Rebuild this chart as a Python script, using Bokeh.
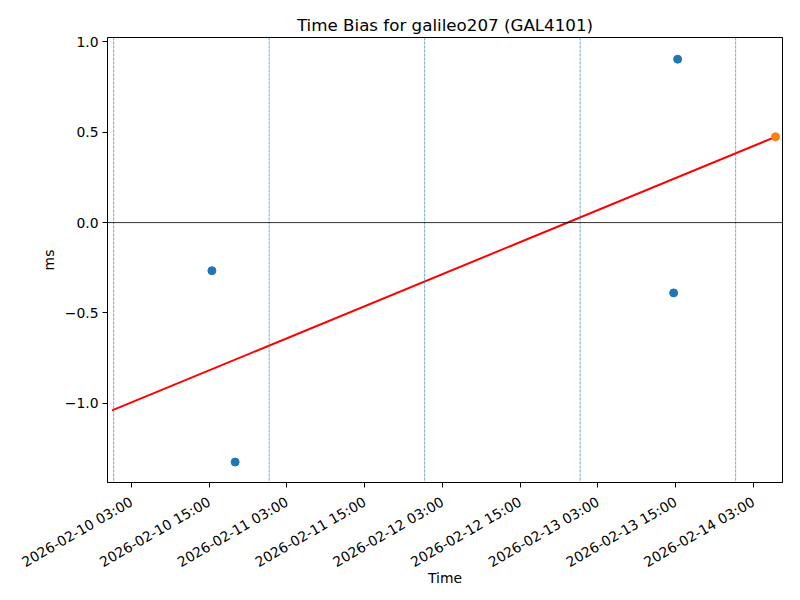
import math
import pandas as pd
from bokeh.plotting import figure
from bokeh.models import (Range1d, FixedTicker, DatetimeTickFormatter, CustomJSTickFormatter,
                          Span, ColumnDataSource)
from bokeh.embed import file_html
from bokeh.resources import INLINE

# ---- data ----
blue_times = ["2026-02-10 15:25", "2026-02-10 19:00", "2026-02-13 14:41", "2026-02-13 15:18"]
blue_values = [-0.266, -1.325, -0.389, 0.904]
orange_times = ["2026-02-14 06:24"]
orange_values = [0.4745]
trend_times = ["2026-02-10 00:00", "2026-02-14 06:24"]
trend_values = [-1.039, 0.4745]
day_marks = ["2026-02-10 00:15", "2026-02-11 00:15", "2026-02-12 00:15",
             "2026-02-13 00:15", "2026-02-14 00:15"]
x_ticks = ["2026-02-10 03:00", "2026-02-10 15:00", "2026-02-11 03:00", "2026-02-11 15:00",
           "2026-02-12 03:00", "2026-02-12 15:00", "2026-02-13 03:00", "2026-02-13 15:00",
           "2026-02-14 03:00"]
y_ticks = [-1.0, -0.5, 0.0, 0.5, 1.0]
x_limits = ["2026-02-09 23:18", "2026-02-14 07:29"]
y_limits = [-1.438, 1.024]


def ms(s):
    return pd.Timestamp(s).value / 1e6


FONT = "DejaVu Sans"

p = figure(width=800, height=600, output_backend="svg", toolbar_location=None,
           x_axis_type="datetime",
           x_range=Range1d(ms(x_limits[0]), ms(x_limits[1])),
           y_range=Range1d(y_limits[0], y_limits[1]),
           min_border_left=107, min_border_right=18, min_border_top=37, min_border_bottom=118,
           title="Time Bias for galileo207 (GAL4101)")

p.title.align = "center"
p.title.text_font = FONT
p.title.text_font_size = "16.7px"
p.title.text_font_style = "normal"
p.title.text_color = "black"
p.title.standoff = 6

p.outline_line_color = "black"
p.outline_line_width = 1
p.outline_line_alpha = 1
p.background_fill_color = "white"
p.border_fill_color = "white"
p.xgrid.grid_line_color = None
p.ygrid.grid_line_color = None

for ax in (p.xaxis[0], p.yaxis[0]):
    ax.axis_line_color = "black"
    ax.major_tick_line_color = "black"
    ax.major_tick_out = 5
    ax.major_tick_in = 0
    ax.minor_tick_line_color = None
    ax.major_label_text_font = FONT
    ax.major_label_text_font_size = "13.9px"
    ax.major_label_text_color = "black"
    ax.axis_label_text_font = FONT
    ax.axis_label_text_font_size = "13.9px"
    ax.axis_label_text_font_style = "normal"
    ax.axis_label_text_color = "black"

p.xaxis[0].ticker = FixedTicker(ticks=[ms(t) for t in x_ticks])
fmt = "%Y-%m-%d %H:%M"
p.xaxis[0].formatter = DatetimeTickFormatter(
    microseconds=fmt, milliseconds=fmt, seconds=fmt, minsec=fmt, minutes=fmt,
    hourmin=fmt, hours=fmt, days=fmt, months=fmt, years=fmt, context=None)
p.xaxis[0].major_label_orientation = math.pi / 6
p.xaxis[0].axis_label = "Time"
p.xaxis[0].major_label_standoff = 13
p.xaxis[0].axis_label_standoff = -10

p.yaxis[0].ticker = FixedTicker(ticks=y_ticks)
p.yaxis[0].formatter = CustomJSTickFormatter(code="return tick.toFixed(1).replace('-', '\u2212');")
p.yaxis[0].axis_label = "ms"
p.yaxis[0].major_label_standoff = 4

# day marker dashed lines
for d in day_marks:
    p.add_layout(Span(location=ms(d), dimension="height", line_color="#1f77b4",
                      line_width=0.7, line_dash="3 1", line_alpha=0.9))

# zero line
p.add_layout(Span(location=0, dimension="width", line_color="black", line_width=0.8))

trend_src = ColumnDataSource(dict(t=[pd.Timestamp(t) for t in trend_times], v=trend_values))
p.line("t", "v", source=trend_src, line_color="red", line_width=2)

blue_src = ColumnDataSource(dict(t=[pd.Timestamp(t) for t in blue_times], v=blue_values))
p.scatter("t", "v", source=blue_src, size=8, fill_color="#1f77b4", line_color="#1f77b4")

orange_src = ColumnDataSource(dict(t=[pd.Timestamp(t) for t in orange_times], v=orange_values))
p.scatter("t", "v", source=orange_src, size=8, fill_color="#ff7f0e", line_color="#ff7f0e")

open("out.html", "w").write(file_html(p, INLINE))
